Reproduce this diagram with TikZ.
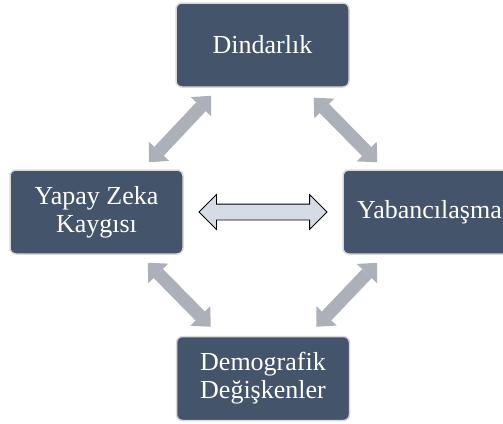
\documentclass[tikz,border=0pt]{standalone}
\usepackage{fontspec}
\setmainfont{Liberation Serif}
\usetikzlibrary{positioning, arrows.meta, shapes.arrows, calc}

\definecolor{boxblue}{RGB}{68,84,106}
\definecolor{linkgray}{RGB}{172,176,184}
\definecolor{paleblue}{RGB}{214,220,229}

\begin{document}
\begin{tikzpicture}[x=1pt, y=-1pt]
		% Estilos de cajas y flechas
		\tikzset{
			block/.style={
					rectangle, rounded corners=6pt,
					draw=white!85!black, line width=1.5pt,
					fill=boxblue, text=white, align=center,
					minimum width=173pt, minimum height=84pt,
					font=\fontsize{26}{28}\selectfont
				},
			line/.style={
					draw=linkgray, line width=13pt,
					{Triangle[width=28pt, length=15pt, line width=0pt]}-{Triangle[width=28pt, length=15pt, line width=0pt]}
				},
			twoway/.style={
					double arrow, draw=black, fill=paleblue, line width=0.8pt,
					minimum height=128pt, minimum width=34pt,
					inner xsep=0pt, inner ysep=7.5pt,
					double arrow head extend=9.5pt
				}
		}
		\useasboundingbox (0,0) rectangle (503,423);
		\clip (0,0) rectangle (503,423);

		% Cajas de las variables
		\node[block] (dind) at (262.5,45) {Dindarlık};
		\node[block] (yapay) at (96.5,212) {Yapay Zeka\\Kaygısı};
		\node[block] (yaban) at (429.5,212) {Yabancılaşma};
		\node[block] (demo) at (263,378.5) {Demografik\\Değişkenler};

		% Flechas grises entre cajas
		\draw[line] ([xshift=-35pt, yshift=7pt]yapay.north east) -- ([xshift=36pt, yshift=-8pt]dind.south west);
		\draw[line] ([xshift=-36pt, yshift=-10pt]dind.south east) -- ([xshift=35pt, yshift=7pt]yaban.north west);
		\draw[line] ([xshift=-36pt, yshift=-8pt]yapay.south east) -- ([xshift=35pt, yshift=9pt]demo.north west);
		\draw[line] ([xshift=35pt, yshift=-8pt]yaban.south west) -- ([xshift=-34pt, yshift=9pt]demo.north east);

		% Flecha doble central
		\node[twoway] (mutual) at ($(yapay)!0.5!(yaban)$) {};
	\end{tikzpicture}
\end{document}
